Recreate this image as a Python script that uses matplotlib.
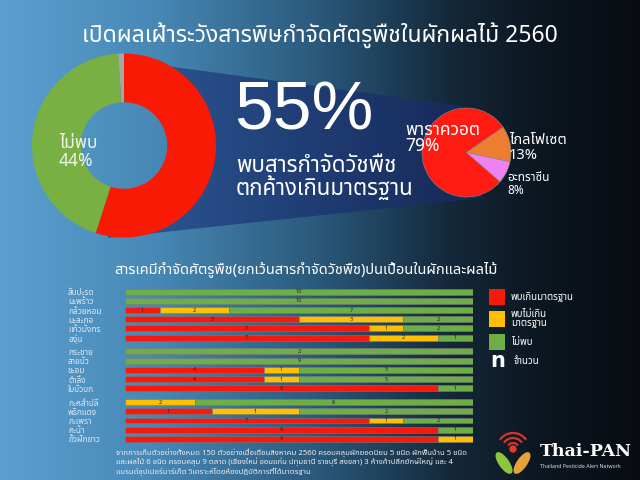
import numpy as np
import matplotlib
matplotlib.use("Agg")
import matplotlib.pyplot as plt
from matplotlib.patches import Polygon, Rectangle, Arc, Circle, Ellipse

plt.rcParams['font.family'] = ['Noto Sans Thai', 'Noto Sans', 'DejaVu Sans']

# ---- data ----
title = "เปิดผลเฝ้าระวังสารพิษกำจัดศัตรูพืชในผักผลไม้ 2560"

donut_labels = ["พบเกินมาตรฐาน", "ไม่พบ", "อื่นๆ"]
donut_values = [55, 44, 1]

herb_labels = ["พาราควอต", "ไกลโฟเซต", "อะทราซีน"]
herb_values = [79, 13, 8]

categories = ["สับปะรด", "มะพร้าว", "กล้วยหอม", "มะละกอ", "แก้วมังกร", "องุ่น",
              "กระชาย", "สายบัว", "ชะอม", "ตำลึง", "ใบบัวบก",
              "กะหล่ำปลี", "พริกแดง", "กะเพรา", "คะน้า", "ถั่วฝักยาว"]
group_sizes = [6, 5, 5]
over_std = [0, 0, 1, 5, 7, 7, 0, 0, 4, 4, 9, 0, 1, 7, 9, 9]
under_std = [0, 0, 2, 3, 1, 2, 0, 0, 1, 1, 0, 2, 1, 1, 0, 1]
not_found = [10, 10, 7, 2, 2, 1, 2, 9, 5, 5, 1, 8, 2, 2, 1, 0]
series_names = ["พบเกินมาตรฐาน", "พบไม่เกิน\nมาตรฐาน", "ไม่พบ"]
series_colors = ["#f51a0c", "#ffc000", "#6fad47"]

footer = ("จากการเก็บตัวอย่างทั้งหมด 150 ตัวอย่างเมื่อเดือนสิงหาคม 2560 ครอบคลุมผักยอดนิยม 5 ชนิด ผักพื้นบ้าน 5 ชนิด\n"
          "และผลไม้ 6 ชนิด ครอบคลุม 9 ตลาด (เชียงใหม่ ขอนแก่น ปทุมธานี ราชบุรี สงขลา) 3 ห้างค้าปลีกยักษ์ใหญ่ และ 4\n"
          "แบรนด์ซุปเปอร์มาร์เก็ต วิเคราะห์โดยห้องปฏิบัติการที่ได้มาตรฐาน")

W, H = 640, 480
fig = plt.figure(figsize=(6.4, 4.8), dpi=100)


def box(x0, y0, x1, y1):
    # pixel box (top-left origin) -> figure fraction rect
    return [x0 / W, 1 - y1 / H, (x1 - x0) / W, (y1 - y0) / H]


def fx(x):
    return x / W


def fy(y):
    return 1 - y / H


# ---- background ----
bg = fig.add_axes([0, 0, 1, 1])
bg.set_xlim(0, W)
bg.set_ylim(H, 0)
bg.axis("off")
stops = [0, 160, 320, 450, 540, 640]
cols = np.array([[92, 160, 208], [70, 135, 180], [42, 88, 122],
                 [20, 40, 58], [12, 22, 32], [8, 12, 18]]) / 255.0
xs = np.arange(W)
row = np.stack([np.interp(xs, stops, cols[:, k]) for k in range(3)], axis=-1)
grad = np.repeat(row[None, :, :], H, axis=0)
bg.imshow(grad, extent=(0, W, H, 0), aspect="auto", zorder=0)

# connector band
poly = Polygon([(122, 60), (462, 106), (482, 198), (108, 238)], closed=True,
               facecolor="none", edgecolor="none")
bg.add_patch(poly)
bstops = [100, 300, 480]
bcols = np.array([[46, 92, 152], [32, 62, 118], [22, 40, 85]]) / 255.0
brow = np.stack([np.interp(xs, bstops, bcols[:, k]) for k in range(3)], axis=-1)
bimg = bg.imshow(np.repeat(brow[None, :, :], H, axis=0), extent=(0, W, H, 0),
                 aspect="auto", zorder=1)
bimg.set_clip_path(poly)

# donut hole shows the plain background again
hole = Circle((124, 145.5), 44, facecolor="none", edgecolor="none")
bg.add_patch(hole)
himg = bg.imshow(grad, extent=(0, W, H, 0), aspect="auto", zorder=2)
himg.set_clip_path(hole)

# ---- donut ----
ax_d = fig.add_axes(box(32, 53, 216, 238))
ax_d.pie(donut_values, colors=["#f81a04", "#79b044", "#a6a6a6"], startangle=90,
         counterclock=False, radius=1, wedgeprops=dict(width=0.53, edgecolor="none"))
ax_d.set_xlim(-1, 1)
ax_d.set_ylim(-1, 1)
ax_d.set_aspect("equal")
ax_d.axis("off")
fig.text(fx(59), fy(152), donut_labels[1] + "\n" + "%d%%" % donut_values[1],
         color="#eef6e6", fontsize=12.5, ha="left", va="center", linespacing=0.95)

# ---- big text ----
fig.text(fx(234), fy(112), "%d%%" % donut_values[0], color="white", fontsize=50,
         family=["Liberation Sans"], ha="left", va="center")
fig.text(fx(236), fy(178), "พบสารกำจัดวัชพืช\nตกค้างเกินมาตรฐาน", color="white",
         fontsize=16, ha="left", va="center", linespacing=0.95)

# ---- herbicide pie ----
ax_p = fig.add_axes(box(422, 108, 511, 197))
ax_p.pie(herb_values, colors=["#ff1a12", "#ed7d31", "#ee82ee"], startangle=-41,
         counterclock=False, radius=1, wedgeprops=dict(edgecolor="#8a8a8a", linewidth=0.4))
ax_p.set_xlim(-1, 1)
ax_p.set_ylim(-1, 1)
ax_p.set_aspect("equal")
ax_p.axis("off")
fig.text(fx(405), fy(138), herb_labels[0] + "\n%d%%" % herb_values[0], color="white",
         fontsize=12.5, ha="left", va="center", linespacing=0.9)
fig.text(fx(509), fy(148), herb_labels[1] + "\n%d%%" % herb_values[1], color="white",
         fontsize=10.5, ha="left", va="center", linespacing=0.95)
fig.text(fx(507), fy(184), herb_labels[2] + "\n%d%%" % herb_values[2], color="white",
         fontsize=8.5, ha="left", va="center", linespacing=0.95)

# ---- title ----
fig.text(0.5, fy(36), title, color="white", fontsize=16.5, ha="center", va="center")

# ---- stacked bars ----
fig.text(fx(114), fy(269), "สารเคมีกำจัดศัตรูพืช(ยกเว้นสารกำจัดวัชพืช)ปนเปื้อนในผักและผลไม้",
         color="white", fontsize=10.5, ha="left", va="center")

pos = []
p = 0.0
for g in group_sizes:
    for i in range(g):
        pos.append(p)
        p += 1
    p += 0.5
pos = np.array(pos)

counts = np.array([over_std, under_std, not_found], dtype=float)
totals = counts.sum(axis=0)
fracs = counts / totals

ax = fig.add_axes(box(125, 287, 473, 443.5))
left = np.zeros(len(categories))
for k in range(3):
    bars = ax.barh(pos, fracs[k], left=left, height=0.64, color=series_colors[k],
                   edgecolor="#7a7a7a", linewidth=0.4)
    ax.bar_label(bars, labels=[str(int(v)) if v else "" for v in counts[k]],
                 label_type="center", fontsize=4, color="#222222")
    left += fracs[k]
ax.set_xlim(0, 1)
ax.set_ylim(pos[-1] + 0.5, -0.5)
ax.set_yticks(pos)
ax.set_yticklabels(categories, fontsize=6, color="#dce9f5", ha="left")
ax.tick_params(axis="y", length=0, pad=41)
ax.set_xticks([])
for s in ax.spines.values():
    s.set_visible(False)
ax.patch.set_alpha(0)

# legend
leg_y = [297, 319, 342]
for k in range(3):
    fig.add_artist(Rectangle((fx(489), fy(leg_y[k] + 8)), 16 / W, 16 / H,
                             transform=fig.transFigure, facecolor=series_colors[k],
                             edgecolor="none"))
    fig.text(fx(511), fy(leg_y[k]), series_names[k], color="white", fontsize=7,
             ha="left", va="center", linespacing=1.0)
fig.text(fx(490), fy(361), "n", color="white", fontsize=15, ha="left", va="center",
         family=["DejaVu Sans"], fontweight="bold")
fig.text(fx(514), fy(362), "จำนวน", color="white", fontsize=7, ha="left", va="center")

# footer
fig.text(fx(116), fy(462), footer, color="#e8eef4", fontsize=5.6, ha="left",
         va="center", linespacing=1.05)

# ---- logo ----
ax_l = fig.add_axes(box(488, 428, 538, 478))
ax_l.set_xlim(0, 50)
ax_l.set_ylim(0, 50)
ax_l.axis("off")
for r in (6, 11, 16):
    ax_l.add_patch(Arc((25, 29), 2 * r, 2 * r, theta1=35, theta2=145,
                       color="#d7332b", lw=1.6))
ax_l.add_patch(Circle((25, 29), 3, color="#e23a2c"))
ax_l.add_patch(Ellipse((16, 15), 24, 9, angle=125, color="#8cc63f"))
ax_l.add_patch(Ellipse((34, 15), 24, 9, angle=55, color="#e8a23a"))
fig.text(fx(540), fy(452), "Thai-PAN", color="white", fontsize=12.5,
         family=["DejaVu Serif"], fontweight="bold", ha="left", va="center")
fig.text(fx(540), fy(467), "Thailand Pesticide Alert Network", color="#dddddd",
         fontsize=3.8, ha="left", va="center")

fig.savefig("out.png", dpi=100)
